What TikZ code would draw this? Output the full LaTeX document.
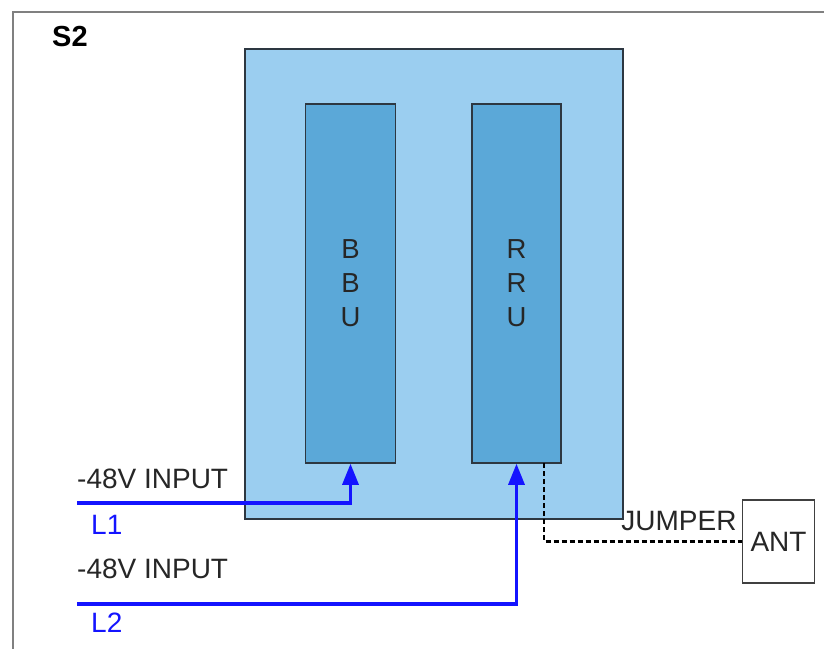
\documentclass[tikz,border=0pt]{standalone}
\usepackage{fontspec}
\setmainfont{Liberation Sans}
\usetikzlibrary{arrows.meta}
\definecolor{lightbl}{RGB}{155,206,240}
\definecolor{darkbl}{RGB}{91,168,216}
\definecolor{edge}{RGB}{45,55,65}
\definecolor{framegray}{RGB}{128,128,128}
\definecolor{wireblue}{RGB}{20,20,255}
\begin{document}
\begin{tikzpicture}[x=1pt,y=-1pt,
  txt/.style={inner sep=0pt,font=\fontsize{28}{34}\selectfont,text=black!85},
  bluetxt/.style={inner sep=0pt,font=\fontsize{28}{34}\selectfont,text=wireblue},
  unitbox/.style={draw=edge,line width=1.5pt,fill=darkbl,inner sep=0pt,align=center,
     font=\fontsize{27.5}{34}\selectfont,text=black!85},
  wire/.style={draw=wireblue,line width=3.2pt,-{Triangle[length=21pt,width=16pt]}},
  jump/.style={draw=black,line width=2.8pt,dash pattern=on 5pt off 3pt}]
\useasboundingbox (0,0) rectangle (824,648);
\fill[white] (0,0) rectangle (824,648);
% outer frame
\draw[framegray,line width=2.8pt] (13,650) -- (13,12) -- (830,12);
\node[inner sep=0pt,anchor=west,font=\fontsize{29}{34}\selectfont\bfseries] (s2) at (52,37) {S2};
% cabinet
\node[draw=edge,line width=1.5pt,fill=lightbl,inner sep=0pt,minimum width=378pt,minimum height=470pt] (cab) at (434,284) {};
\node[unitbox,minimum width=90pt,minimum height=359pt] (bbu) at (350.5,283.5) {B\\B\\U};
\node[unitbox,minimum width=89pt,minimum height=359pt] (rru) at (516.5,283.5) {R\\R\\U};
% antenna
\node[draw=black!75,line width=1.5pt,fill=white,inner sep=0pt,minimum width=72pt,minimum height=83pt,
  font=\fontsize{28}{34}\selectfont,text=black!85] (ant) at (778.5,541.5) {ANT};
% labels
\node[txt,anchor=west] (in1) at (77,479) {-48V INPUT};
\node[bluetxt,anchor=west] (l1) at (91,525) {L1};
\node[txt,anchor=west] (in2) at (77,569) {-48V INPUT};
\node[bluetxt,anchor=west] (l2) at (91,623) {L2};
\node[txt] (jl) at (679,521) {JUMPER};
% connectors
\coordinate (w1) at (77,503);
\coordinate (w2) at (77,604);
\coordinate (jt) at (544,463);
\draw[wire] (w1) -| (bbu.south);
\draw[wire] (w2) -| (rru.south);
\draw[jump] (jt) |- (ant.west);
\end{tikzpicture}
\end{document}
